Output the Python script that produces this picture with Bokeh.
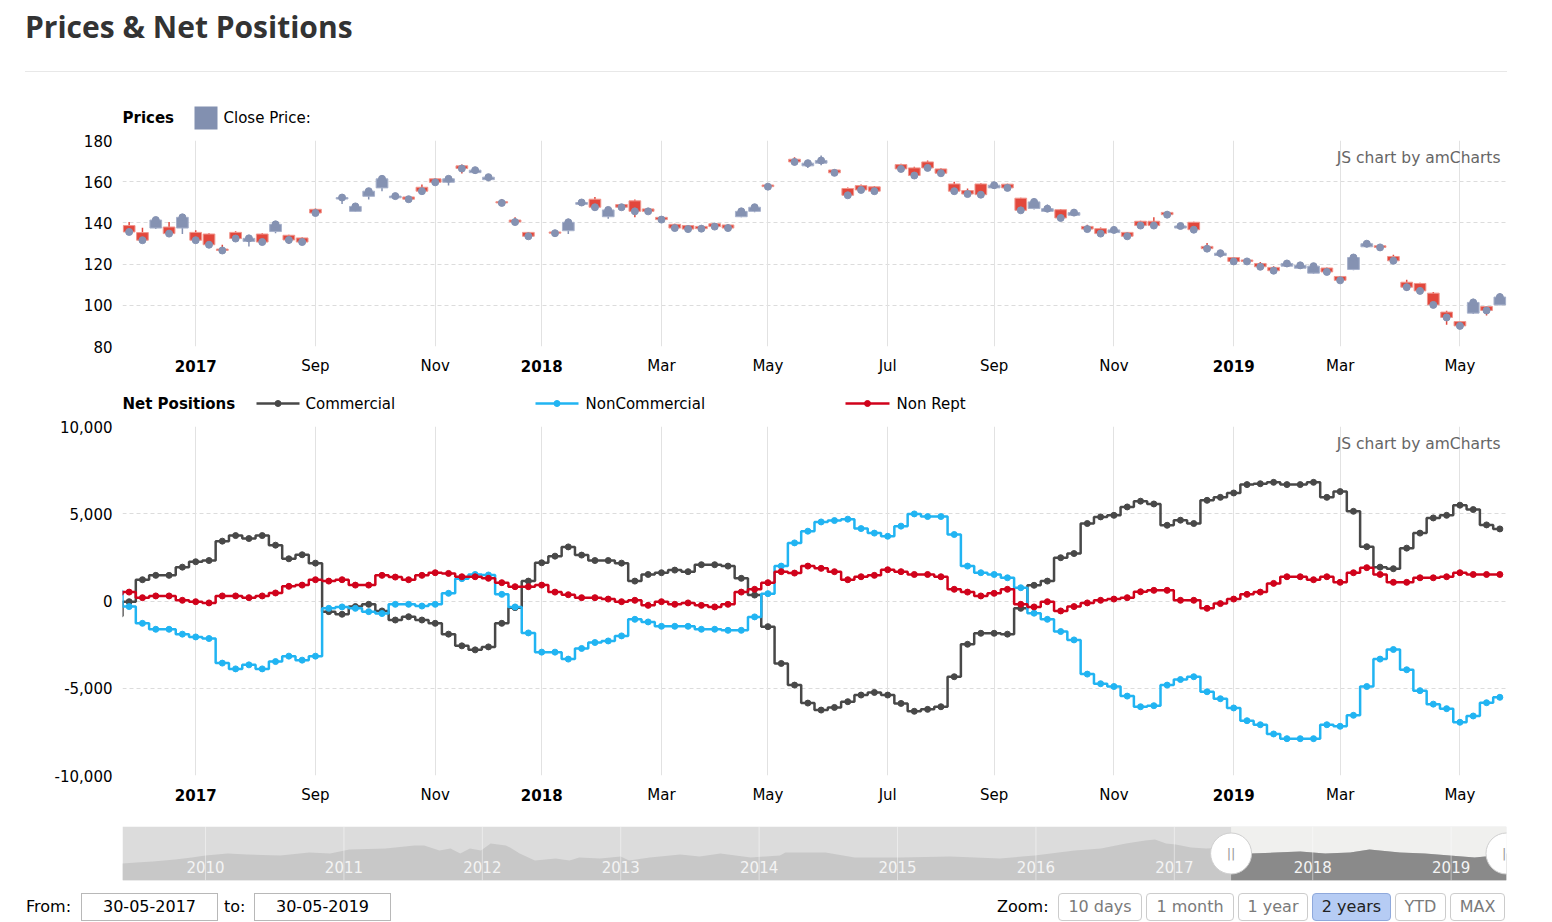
import numpy as np
from bokeh.plotting import figure
from bokeh.layouts import column
from bokeh.models import Range1d, FixedTicker, NumeralTickFormatter, Grid, Div
from bokeh.core.properties import value
from bokeh.embed import file_html
from bokeh.resources import INLINE

# ---------------- data ----------------
title = "Prices & Net Positions"
tick_idx = [5, 14, 23, 31, 40, 48, 57, 65, 74, 83, 91, 100]
tick_labels = ["2017", "Sep", "Nov", "2018", "Mar", "May", "Jul", "Sep", "Nov", "2019", "Mar", "May"]
tick_bold = [True, False, False, True, False, False, False, False, False, True, False, False]

price_open = [138.7,135.3,137.5,138.0,137.5,135.4,134.6,127.3,135.4,131.0,
              134.6,135.8,134.0,132.7,146.6,None,151.6,145.6,152.9,157.0,
              152.2,152.6,157.3,161.4,159.7,167.7,164.4,161.0,150.3,141.4,
              135.4,None,135.6,136.2,149.0,151.5,143.0,148.9,150.7,146.8,
              142.7,139.3,138.7,138.3,139.6,139.0,143.0,145.6,158.4,None,
              170.9,167.7,169.0,165.7,156.7,158.1,157.5,None,168.3,166.7,
              169.6,166.2,158.9,155.7,158.9,157.0,158.8,152.0,147.0,145.6,
              146.4,143.7,138.3,137.2,135.3,135.4,140.8,140.8,145.1,137.5,
              140.3,128.6,124.2,123.2,122.0,120.3,118.4,119.0,118.0,115.6,
              118.1,114.0,117.4,128.4,128.9,123.7,111.2,110.6,105.9,96.7,
              92.1,96.2,99.4,100.2]
price_high = [140.4,137.7,142.3,140.4,144.0,136.4,135.0,129.4,135.9,134.0,
              135.0,140.4,134.3,133.0,147.0,None,153.7,149.2,156.7,162.7,
              153.5,152.8,158.6,161.6,162.7,168.3,166.7,163.5,151.6,142.8,
              135.4,None,136.0,142.0,150.8,152.6,147.4,149.2,151.3,147.2,
              143.0,139.6,139.0,138.8,139.9,139.3,146.8,148.9,159.0,None,
              171.9,169.5,172.7,166.0,157.2,158.6,157.9,None,168.7,167.2,
              170.3,166.5,160.0,156.7,159.2,160.0,159.0,152.2,151.3,148.9,
              146.8,146.6,139.1,137.8,137.2,135.6,141.0,142.7,145.5,139.1,
              140.5,130.2,126.5,123.4,122.4,121.0,119.0,121.0,120.0,120.0,
              118.4,114.2,124.5,130.4,129.2,124.5,112.4,110.9,106.4,97.3,
              92.4,103.2,99.6,105.8]
price_low = [135.6,131.6,137.0,134.0,134.6,131.0,128.5,125.9,131.8,128.6,
             130.0,135.0,129.8,130.3,144.6,None,149.2,145.4,151.3,155.4,
             151.8,150.8,154.0,159.4,158.1,164.0,163.8,160.2,149.2,139.6,
             132.7,None,134.6,134.6,148.4,146.0,142.0,147.2,142.7,145.0,
             141.2,137.2,136.4,135.9,137.3,137.2,142.7,145.2,157.2,None,
             168.0,166.7,168.0,163.8,152.6,155.5,155.0,None,165.9,162.5,
             166.2,163.0,155.0,153.4,153.0,156.7,156.5,145.5,146.5,145.5,
             142.0,143.5,135.9,134.5,135.0,132.8,138.5,138.5,143.2,137.2,
             136.4,127.2,123.2,121.0,121.0,118.4,116.0,118.7,117.9,115.3,
             115.9,111.8,117.0,128.2,127.8,120.5,107.0,106.7,99.8,90.5,
             89.8,95.8,95.0,100.0]
price_close = [135.6,131.6,141.4,134.8,142.7,131.6,129.4,126.6,132.4,132.5,
               130.7,139.3,131.7,130.7,144.8,None,152.3,148.0,155.4,161.4,
               153.0,151.5,155.4,159.7,161.4,166.4,165.6,162.2,149.7,140.4,
               133.5,None,135.0,140.3,149.9,147.6,146.3,147.6,145.6,145.6,
               141.6,137.5,137.0,137.2,138.2,137.5,145.6,147.6,157.6,None,
               169.6,169.0,170.3,164.3,153.4,156.0,155.4,None,166.2,163.0,
               166.7,164.1,155.4,154.0,153.7,158.3,157.0,146.1,150.2,146.9,
               142.4,145.0,137.0,134.8,136.6,133.5,138.7,138.7,144.0,138.5,
               136.7,127.5,125.3,121.3,121.3,118.7,116.8,120.3,119.4,119.0,
               116.2,112.1,123.2,129.9,128.1,121.6,108.8,107.0,100.2,94.1,
               90.0,101.4,97.5,104.0]

# net positions: week index -1 .. 103
net_idx = list(range(-1, 104))
commercial = [-860,
              -40,1220,1470,1470,1940,2250,2320,3430,3750,3580,
              3750,3200,2420,2650,2170,-610,-760,-320,-190,-570,
              -1090,-900,-1090,-1280,-1900,-2570,-2800,-2630,-1280,-380,
              1140,2190,2570,3100,2630,2320,2320,2170,1140,1520,
              1620,1770,1680,2080,2080,2000,1300,340,-1470,-3580,
              -4820,-5850,-6250,-6100,-5770,-5390,-5240,-5390,-5870,-6320,
              -6210,-6060,-4340,-2480,-1850,-1850,-1900,-420,900,1140,
              2480,2720,4440,4820,4910,5390,5720,5560,4340,4630,
              4440,5770,5940,6190,6670,6720,6800,6670,6670,6800,
              5940,6270,5140,3110,1940,1850,3030,3890,4760,4910,
              5490,5240,4360,4130]
noncommercial = [570,
                 -320,-1280,-1620,-1620,-1900,-2060,-2150,-3560,-3890,-3660,
                 -3890,-3470,-3160,-3390,-3160,-420,-340,-420,-610,-720,
                 -190,-190,-290,-190,440,1280,1520,1490,380,-340,
                 -1830,-2930,-2930,-3330,-2720,-2380,-2290,-2000,-1050,-1200,
                 -1450,-1450,-1450,-1620,-1620,-1680,-1680,-910,420,2000,
                 3330,4000,4530,4610,4690,4150,3890,3710,4290,4990,
                 4840,4840,3810,2000,1620,1520,1330,760,-700,-1050,
                 -1750,-2230,-4190,-4740,-4900,-5450,-6060,-6000,-4820,-4500,
                 -4340,-5200,-5600,-6130,-6860,-7090,-7620,-7890,-7890,-7890,
                 -7090,-7180,-6550,-4900,-3330,-2780,-3940,-5140,-5910,-6170,
                 -6950,-6590,-5830,-5520]
nonrept = [380,
           510,190,290,290,40,-40,-110,290,290,190,
           290,460,840,910,1220,1140,1220,910,910,1470,
           1370,1220,1470,1620,1580,1390,1390,1300,1050,820,
           820,910,510,360,190,190,110,-40,40,-250,
           -40,-190,-110,-250,-340,-190,510,670,1050,1680,
           1600,2000,1870,1680,1220,1390,1470,1790,1680,1520,
           1520,1390,670,510,290,440,670,-190,-340,-40,
           -570,-320,-110,40,110,190,530,610,610,40,
           40,-420,-150,110,380,510,1010,1390,1390,1220,
           1390,1070,1620,1910,1520,1070,1070,1330,1330,1390,
           1620,1520,1520,1520]

# scrollbar history (decimal year, relative level)
scroll_year = [2009.40,2009.50,2009.62,2009.78,2009.90,2010.00,2010.16,2010.30,2010.54,2010.75,
               2010.90,2011.04,2011.30,2011.51,2011.58,2011.69,2011.77,2011.84,2011.91,2011.99,
               2012.06,2012.17,2012.20,2012.27,2012.38,2012.53,2012.63,2012.70,2012.85,2013.00,
               2013.06,2013.21,2013.43,2013.57,2013.72,2013.94,2014.15,2014.19,2014.48,2014.69,
               2015.02,2015.38,2015.74,2015.99,2016.28,2016.47,2016.65,2016.79,2016.86,2016.94,
               2017.01,2017.12,2017.23,2017.37,2017.41,2017.55,2017.73,2017.91,2018.09,2018.27,
               2018.41,2018.63,2018.81,2018.99,2019.17,2019.32,2019.40]
scroll_val = [17,18,19,21,23,25,27,26,25,28,
              27,31,32,35,35,30,32,27,32,30,
              37,35,33,27,20,22,20,23,22,24,
              20,23,26,24,27,23,25,28,28,23,
              23,24,22,25,30,32,37,40,41,37,
              36,33,32,33,32,27,28,29,27,28,
              31,28,27,25,23,25,27]
scroll_years_lbl = [2010, 2011, 2012, 2013, 2014, 2015, 2016, 2017, 2018, 2019]
sel_start, sel_end = 2017.41, 2019.40
from_text, to_text = "30-05-2017", "30-05-2019"
zoom_labels = ["10 days", "1 month", "1 year", "2 years", "YTD", "MAX"]
zoom_selected = "2 years"

# ---------------- styling ----------------
W = 1552
LB, RB = 122, 46          # frame spans x 122 .. 1506
FONT = "DejaVu Sans"
RED = "#e2473c"
BLUE = "#8592b2"
C_COM, C_NON, C_NR = "#484848", "#21b4f2", "#d0021b"


def hide_grids(p):
    for g in p.grid:
        g.visible = False


def legend_strip(y0, y1):
    p = figure(width=W, height=y1 - y0, x_range=Range1d(122, 1506), y_range=Range1d(y1, y0),
               output_backend="svg", toolbar_location=None, min_border_left=LB, min_border_right=RB,
               min_border_top=0, min_border_bottom=0, x_axis_location=None, y_axis_location=None)
    p.outline_line_color = None
    hide_grids(p)
    return p


def txt(p, x, y, t, size="15px", bold=False, color="#000000", align="left", baseline="middle"):
    p.text(x=[x], y=[y], text=[t], text_font=value(FONT), text_font_size=size,
           text_font_style="bold" if bold else "normal", text_color=color,
           text_align=align, text_baseline=baseline)


def style_y(p, ticks):
    hide_grids(p)
    p.yaxis.ticker = FixedTicker(ticks=ticks)
    p.yaxis.axis_line_color = None
    p.yaxis.major_tick_line_color = None
    p.yaxis.minor_tick_line_color = None
    p.yaxis.major_tick_out = 0
    p.yaxis.major_tick_in = 0
    p.yaxis.major_label_standoff = 10
    p.yaxis.major_label_text_font = FONT
    p.yaxis.major_label_text_font_size = "15px"
    p.yaxis.major_label_text_color = "#000000"
    p.add_layout(Grid(dimension=1, ticker=FixedTicker(ticks=ticks), grid_line_color="#dcdcdc",
                      grid_line_dash="4 3"))
    p.add_layout(Grid(dimension=0, ticker=FixedTicker(ticks=tick_idx), grid_line_color="#e2e2e2"))
    p.outline_line_color = None


def xlabel_strip(y0, y1, mid):
    p = figure(width=W, height=y1 - y0, x_range=Range1d(-0.5, 103.5), y_range=Range1d(y1, y0),
               output_backend="svg", toolbar_location=None, min_border_left=LB, min_border_right=RB,
               min_border_top=0, min_border_bottom=0, x_axis_location=None, y_axis_location=None)
    p.outline_line_color = None
    hide_grids(p)
    for bold in (False, True):
        xs = [i for i, b in zip(tick_idx, tick_bold) if b == bold]
        ts = [t for t, b in zip(tick_labels, tick_bold) if b == bold]
        p.text(x=xs, y=[mid] * len(xs), text=ts, text_font=value(FONT), text_font_size="15px",
               text_font_style="bold" if bold else "normal", text_color="#000000",
               text_align="center", text_baseline="middle")
    return p


# ---------------- header (HTML) ----------------
hdr_html = (
    '<div style="position:relative;width:1552px;height:88px;margin:0;padding:0;">'
    '<div style="position:absolute;left:25px;top:6px;font-family:\'Open Sans\';font-weight:bold;'
    f'font-size:30px;line-height:41px;color:#333333;white-space:nowrap;">{title.replace("&", "&amp;")}</div>'
    '<div style="position:absolute;left:25px;top:71px;width:1482px;height:1px;background:#e8e8e8;"></div>'
    '</div>'
)
hdr = Div(text=hdr_html, width=W, height=88, margin=(0, 0, 0, 0))

# ---------------- price legend ----------------
pl = legend_strip(88, 132)
txt(pl, 122, 117, "Prices", bold=True)
pl.quad(left=[194], right=[217], top=[106], bottom=[129], fill_color="#8290b0", line_color=None)
txt(pl, 223, 117, "Close Price:")

# ---------------- price chart ----------------
pp = figure(width=W, height=223, x_range=Range1d(-0.5, 103.5), y_range=Range1d(80, 180),
            output_backend="svg", toolbar_location=None, x_axis_location=None,
            min_border_left=LB, min_border_right=RB, min_border_top=8, min_border_bottom=9)
style_y(pp, [80, 100, 120, 140, 160, 180])

idx = [i for i in range(len(price_open)) if price_open[i] is not None]
o = np.array([price_open[i] for i in idx])
h = np.array([price_high[i] for i in idx])
l = np.array([price_low[i] for i in idx])
c = np.array([price_close[i] for i in idx])
x = np.array(idx)
up = c >= o
for mask, col, lc in ((up, BLUE, "#a7b1cb"), (~up, RED, "#f0968d")):
    pp.segment(x0=x[mask], y0=l[mask], x1=x[mask], y1=h[mask], line_color=col, line_width=1.5)
    pp.vbar(x=x[mask], width=0.88, top=np.maximum(o, c)[mask], bottom=np.minimum(o, c)[mask],
            fill_color=col, line_color=lc, line_width=1)
pp.scatter(x, c, size=7, fill_color=BLUE, line_color=BLUE)
pp.text(x=[103.05], y=[171.6], text=["JS chart by amCharts"], text_font=value(FONT),
        text_font_size="15.5px", text_color="#666666", text_align="right", text_baseline="middle")

px_lbl = xlabel_strip(355, 380, 365)

# ---------------- net legend ----------------
nl = legend_strip(380, 416)
txt(nl, 122, 403, "Net Positions", bold=True)
for x0, x1, col, name, tx in ((256, 299, C_COM, "Commercial", 305),
                              (535, 578, C_NON, "NonCommercial", 585),
                              (845, 889, C_NR, "Non Rept", 896)):
    nl.segment(x0=[x0], y0=[403], x1=[x1], y1=[403], line_color=col, line_width=2.5)
    nl.scatter([(x0 + x1) / 2], [403], size=6, fill_color=col, line_color=col)
    txt(nl, tx, 403, name)

# ---------------- net chart ----------------
pn = figure(width=W, height=368, x_range=Range1d(-0.5, 103.5), y_range=Range1d(-10000, 10000),
            output_backend="svg", toolbar_location=None, x_axis_location=None,
            min_border_left=LB, min_border_right=RB, min_border_top=10, min_border_bottom=9)
style_y(pn, [-10000, -5000, 0, 5000, 10000])
pn.yaxis.formatter = NumeralTickFormatter(format="0,0")
for series, col in ((commercial, C_COM), (noncommercial, C_NON), (nonrept, C_NR)):
    pn.step(net_idx, series, mode="center", line_color=col, line_width=2.5)
    pn.scatter(net_idx, series, size=6, fill_color=col, line_color=col)
pn.text(x=[103.05], y=[9000], text=["JS chart by amCharts"], text_font=value(FONT),
        text_font_size="15.5px", text_color="#666666", text_align="right", text_baseline="middle")

pn_lbl = xlabel_strip(784, 812, 794)

# ---------------- scrollbar ----------------
sc = figure(width=W, height=74, x_range=Range1d(scroll_year[0], scroll_year[-1]), y_range=Range1d(0, 54),
            output_backend="svg", toolbar_location=None, x_axis_location=None, y_axis_location=None,
            min_border_left=LB, min_border_right=RB, min_border_top=14, min_border_bottom=6)
sc.outline_line_color = None
hide_grids(sc)
sc.quad(left=[scroll_year[0]], right=[scroll_year[-1]], bottom=[0], top=[54], fill_color="#dcdcdc", line_color=None)
sc.quad(left=[sel_start], right=[sel_end], bottom=[0], top=[54], fill_color="#f0f0ee", line_color=None)
sc.varea(x=scroll_year, y1=0, y2=scroll_val, fill_color="#c8c8c8")
sy = [yv for yv in scroll_year if yv >= sel_start]
sv = [v for yv, v in zip(scroll_year, scroll_val) if yv >= sel_start]
sc.varea(x=sy, y1=0, y2=sv, fill_color="#8a8a8a")
sc.segment(x0=scroll_years_lbl, y0=0, x1=scroll_years_lbl, y1=54, line_color="#ffffff", line_alpha=0.45)
sc.text(x=scroll_years_lbl, y=[14] * len(scroll_years_lbl), text=[str(v) for v in scroll_years_lbl],
        text_font=value(FONT), text_font_size="15px", text_color="#f4f4f4",
        text_align="center", text_baseline="middle")
sc.scatter([sel_start, sel_end], [27, 27], size=41, fill_color="#ffffff", line_color="#cfcfcf", line_width=1)
sc.text(x=[sel_start, sel_end], y=[27, 27], text=["||", "||"], text_font=value(FONT), text_font_size="13px",
        text_color="#999999", text_align="center", text_baseline="middle")

# ---------------- controls (HTML) ----------------
def box(left, width, label, bg="#ffffff", border="#b8b8b8", color="#000000", radius=0):
    return (f'<div style="position:absolute;left:{left}px;top:7px;width:{width}px;height:28px;'
            f'box-sizing:border-box;border:1px solid {border};border-radius:{radius}px;background:{bg};'
            f'font-family:\'DejaVu Sans\';font-size:16px;line-height:26px;text-align:center;color:{color};'
            f'white-space:nowrap;">{label}</div>')


def lab(left, label):
    return (f'<div style="position:absolute;left:{left}px;top:7px;height:28px;font-family:\'DejaVu Sans\';'
            f'font-size:16px;line-height:28px;color:#000000;white-space:nowrap;">{label}</div>')


b_left = [1058, 1146, 1238, 1312, 1395, 1450]
b_right = [1142, 1234, 1308, 1391, 1446, 1505]
parts = [lab(26, "From:"), box(81, 137, from_text), lab(224, "to:"), box(254, 137, to_text), lab(997, "Zoom:")]
for lft, rgt, lb in zip(b_left, b_right, zoom_labels):
    sel = lb == zoom_selected
    parts.append(box(lft, rgt - lft, lb, bg="#b6ccf4" if sel else "#ffffff",
                     border="#8fa9dc" if sel else "#cccccc",
                     color="#222222" if sel else "#7a7a7a", radius=4))
ct_html = '<div style="position:relative;width:1552px;height:36px;margin:0;padding:0;">' + "".join(parts) + '</div>'
ct = Div(text=ct_html, width=W, height=36, margin=(0, 0, 0, 0))

layout = column(hdr, pl, pp, px_lbl, nl, pn, pn_lbl, sc, ct, spacing=0)
open("out.html", "w").write(file_html(layout, INLINE))
